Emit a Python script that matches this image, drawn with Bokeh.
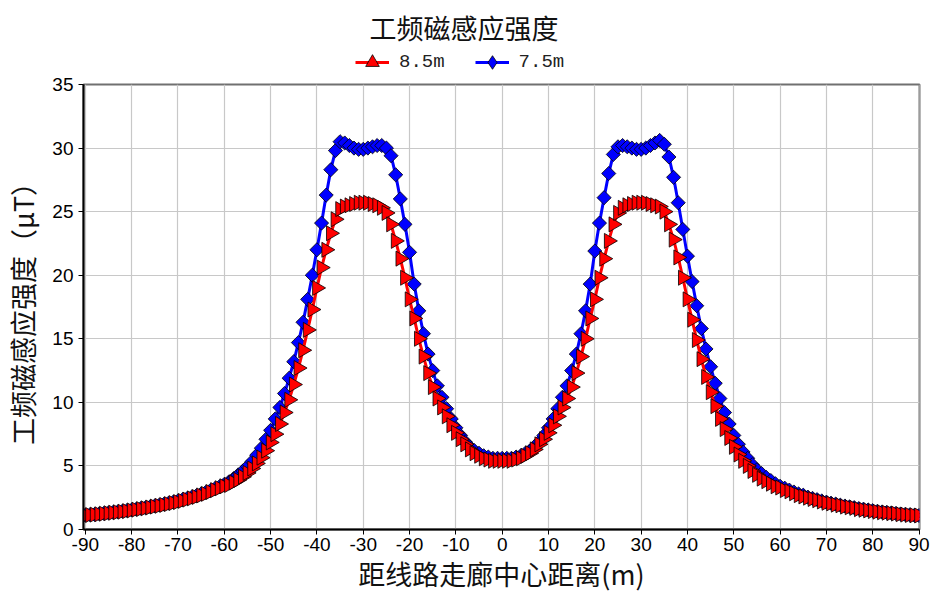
import math
from bokeh.plotting import figure
from bokeh.layouts import column
from bokeh.models import Range1d, FixedTicker, Legend, LegendItem, ColumnDataSource
from bokeh.embed import file_html
from bokeh.resources import INLINE

# ---------------- data ----------------
distance = list(range(-90, 91))  # m, 1 m step

# 8.5 m conductor height
red_left = [1.11, 1.14, 1.17, 1.20, 1.24, 1.28, 1.32, 1.36, 1.40, 1.45,
            1.50, 1.56, 1.61, 1.67, 1.73, 1.80, 1.86, 1.93, 2.00, 2.08,
            2.16, 2.25, 2.35, 2.45, 2.56, 2.68, 2.80, 2.95, 3.10, 3.25,
            3.40, 3.50, 3.70, 3.90, 4.15, 4.45, 4.80, 5.20, 5.65, 6.20,
            6.85, 7.50, 8.30, 9.20, 10.2, 11.4, 12.7, 14.1, 15.7, 17.3,
            19.0, 20.6, 22.0, 23.3, 24.4, 25.2, 25.4, 25.5, 25.6, 25.7,
            25.7, 25.7, 25.6, 25.5, 25.3, 24.9, 24.0, 22.7, 21.3, 19.8,
            18.1, 16.6, 15.0, 13.6, 12.3, 11.2, 10.3, 9.6, 8.9, 8.2,
            7.6, 7.1, 6.7, 6.3, 6.0, 5.8, 5.6, 5.5, 5.4, 5.4]          # x = -90 .. -1
red_right = [5.4, 5.4, 5.4, 5.5, 5.6, 5.8, 6.0, 6.3, 6.7, 7.1,
             7.6, 8.2, 8.9, 9.6, 10.3, 11.2, 12.3, 13.6, 15.0, 16.6,
             18.1, 19.8, 21.3, 22.7, 24.0, 24.9, 25.3, 25.5, 25.6, 25.7,
             25.7, 25.7, 25.6, 25.5, 25.4, 25.0, 24.0, 22.8, 21.4, 19.8,
             18.1, 16.5, 14.9, 13.4, 12.0, 10.8, 9.7, 8.7, 7.9, 7.2,
             6.5, 5.9, 5.4, 5.0, 4.6, 4.3, 4.0, 3.8, 3.6, 3.4,
             3.3, 3.1, 3.0, 2.85, 2.7, 2.6, 2.5, 2.4, 2.3, 2.2,
             2.1, 2.05, 1.95, 1.9, 1.8, 1.75, 1.7, 1.6, 1.55, 1.5,
             1.45, 1.4, 1.35, 1.32, 1.28, 1.25, 1.2, 1.17, 1.14, 1.12,
             1.1]                                                   # x = 0 .. 90

# 7.5 m conductor height
blue_left = [1.13, 1.16, 1.19, 1.23, 1.27, 1.31, 1.35, 1.39, 1.44, 1.49,
             1.54, 1.60, 1.66, 1.72, 1.79, 1.86, 1.93, 2.00, 2.08, 2.16,
             2.25, 2.35, 2.45, 2.56, 2.67, 2.80, 2.92, 3.07, 3.22, 3.38,
             3.55, 3.75, 4.00, 4.30, 4.60, 4.95, 5.35, 5.85, 6.40, 7.10,
             7.80, 8.70, 9.60, 10.7, 11.9, 13.2, 14.7, 16.3, 18.1, 20.0,
             22.0, 24.1, 26.3, 28.3, 29.8, 30.5, 30.4, 30.2, 30.0, 29.9,
             29.9, 30.0, 30.1, 30.2, 30.2, 30.0, 29.4, 27.9, 26.0, 24.0,
             21.8, 19.3, 17.2, 15.4, 13.8, 12.5, 11.3, 10.4, 9.5, 8.7,
             8.0, 7.4, 6.9, 6.5, 6.2, 6.0, 5.8, 5.7, 5.6, 5.6]          # x = -90 .. -1
blue_right = [5.6, 5.6, 5.6, 5.7, 5.8, 6.0, 6.2, 6.5, 6.9, 7.4,
              8.0, 8.7, 9.5, 10.4, 11.3, 12.5, 13.8, 15.4, 17.2, 19.3,
              21.9, 24.1, 26.1, 28.0, 29.5, 30.1, 30.2, 30.1, 30.0, 29.9,
              29.9, 30.0, 30.2, 30.4, 30.6, 30.3, 29.3, 27.7, 25.7, 23.6,
              21.5, 19.5, 17.6, 15.8, 14.2, 12.8, 11.5, 10.3, 9.2, 8.3,
              7.4, 6.7, 6.1, 5.6, 5.1, 4.7, 4.4, 4.1, 3.85, 3.6,
              3.4, 3.25, 3.1, 2.95, 2.8, 2.7, 2.55, 2.45, 2.35, 2.25,
              2.15, 2.07, 2.0, 1.92, 1.85, 1.78, 1.72, 1.65, 1.6, 1.54,
              1.48, 1.43, 1.38, 1.34, 1.3, 1.26, 1.22, 1.18, 1.15, 1.12,
              1.1]                                                  # x = 0 .. 90

red_values = red_left + red_right
blue_values = blue_left + blue_right

x_ticks = list(range(-90, 91, 10))
y_ticks = list(range(0, 36, 5))

title_text = "工频磁感应强度"
x_title = "距线路走廊中心距离(m)"
y_title = "工频磁感应强度（μT）"
red_label = "8.5m"
blue_label = "7.5m"

CJK = "Noto Sans CJK SC"

src_red = ColumnDataSource(dict(x=distance, y=red_values))
src_blue = ColumnDataSource(dict(x=distance, y=blue_values))

# ---------------- header (title + legend) ----------------
# The header shares the data sources; its ranges lie outside the data, so only
# the legend samples of its renderers are visible.
header = figure(width=935, height=73, output_backend="svg", toolbar_location=None,
                x_range=Range1d(1000, 1001), y_range=Range1d(1000, 1001),
                x_axis_type=None, y_axis_type=None, title=title_text,
                min_border_left=0, min_border_right=0, min_border_bottom=0,
                min_border_top=47, outline_line_color=None,
                background_fill_color="white", border_fill_color="white")
header.grid.visible = False
header.title.align = "left"
header.title.offset = 286
header.title.text_font = CJK
header.title.text_font_size = "27px"
header.title.text_font_style = "normal"
header.title.text_color = "#111111"
header.title.standoff = 10

hbl = header.line("x", "y", source=src_blue, line_color="#0000ff", line_width=3)
hbs = header.scatter("x", "y", source=src_blue, marker="diamond",
                     fill_color="#0000ff", line_color="#000000", line_width=0.8)
hrl = header.line("x", "y", source=src_red, line_color="#ff0000", line_width=3)
hrs = header.scatter("x", "y", source=src_red, marker="triangle", angle=-math.pi / 2,
                     fill_color="#ff0000", line_color="#000000", line_width=0.8)

legend = Legend(items=[LegendItem(label=red_label, renderers=[hrl, hrs]),
                       LegendItem(label=blue_label, renderers=[hbl, hbs])],
                orientation="horizontal", location=(270, -9),
                glyph_width=34, glyph_height=36, label_standoff=10, spacing=30,
                padding=2, margin=0, border_line_alpha=0, background_fill_alpha=0,
                label_text_font="Liberation Mono", label_text_font_size="19px",
                label_text_color="#222222")
header.add_layout(legend, "center")

# ---------------- main plot ----------------
p = figure(width=935, height=522, output_backend="svg", toolbar_location=None,
           x_range=Range1d(-90.4, 90.1), y_range=Range1d(0, 35), title="",
           min_border_left=83, min_border_right=16, min_border_top=11,
           min_border_bottom=65, background_fill_color="white",
           border_fill_color="white")
p.title.visible = False

p.line("x", "y", source=src_blue, line_color="#0000ff", line_width=3)
p.scatter("x", "y", source=src_blue, marker="square", angle=math.pi / 4,
          size=10, fill_color="#0000ff", line_color="#000000", line_width=0.8)
p.line("x", "y", source=src_red, line_color="#ff0000", line_width=3)
p.scatter("x", "y", source=src_red, marker="triangle", angle=-math.pi / 2,
          size=15, fill_color="#ff0000", line_color="#000000", line_width=0.8)

for ax in (p.xaxis[0], p.yaxis[0]):
    ax.axis_line_color = "black"
    ax.axis_line_width = 2
    ax.major_tick_line_color = "black"
    ax.major_tick_out = 5
    ax.major_tick_in = 0
    ax.minor_tick_line_color = None
    ax.major_label_text_font = "Liberation Sans"
    ax.major_label_text_font_size = "19px"
    ax.major_label_text_color = "black"
    ax.axis_label_text_font = CJK
    ax.axis_label_text_font_style = "normal"
    ax.axis_label_text_color = "#111111"

p.xaxis[0].axis_label_text_font_size = "27px"
p.yaxis[0].axis_label_text_font_size = "27px"
p.xaxis[0].ticker = FixedTicker(ticks=x_ticks)
p.yaxis[0].ticker = FixedTicker(ticks=y_ticks)
p.xaxis[0].major_label_overrides = {t: str(t) for t in x_ticks}
p.xaxis[0].axis_label = x_title
p.yaxis[0].axis_label = y_title
p.xaxis[0].major_label_standoff = 3
p.yaxis[0].major_label_standoff = 5
p.xaxis[0].axis_label_standoff = 0
p.yaxis[0].axis_label_standoff = 7

p.xgrid[0].ticker = FixedTicker(ticks=x_ticks)
p.ygrid[0].ticker = FixedTicker(ticks=y_ticks)
p.grid.grid_line_color = "#c8c8c8"
p.grid.grid_line_width = 1.2

p.outline_line_color = "#707070"
p.outline_line_width = 2

layout = column(header, p, spacing=0)
open("out.html", "w").write(file_html(layout, INLINE))
